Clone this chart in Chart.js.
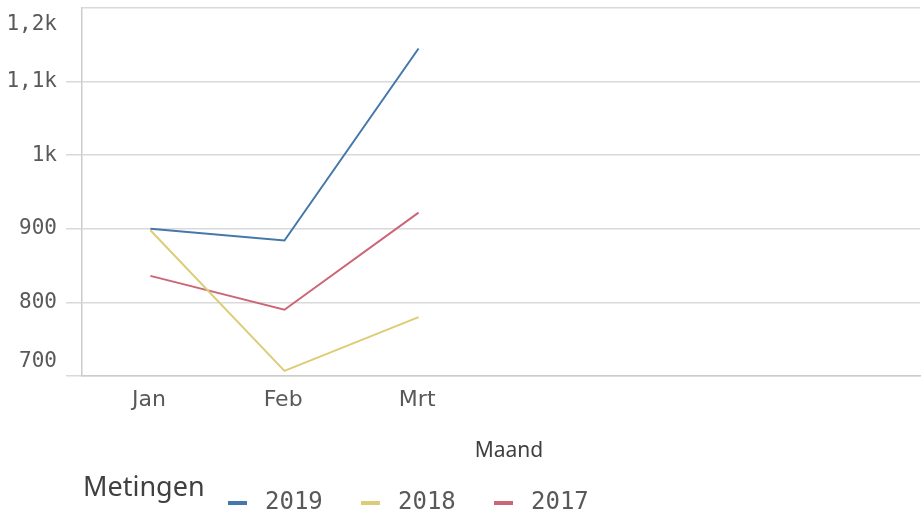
<!DOCTYPE html>
<html>
<head>
<meta charset="utf-8">
<script src="https://cdn.jsdelivr.net/npm/chart.js@4.4.1/dist/chart.umd.min.js"></script>
<style>
  html, body { margin: 0; padding: 0; background: #fff; }
  #wrap { width: 923px; height: 517px; position: relative; }
</style>
</head>
<body>
<div id="wrap"><canvas id="chart"></canvas></div>
<script>
// data
const maanden = ["Jan", "Feb", "Mrt"];
const jaren = ["2019", "2018", "2017"];
const waarden2019 = [900, 884, 1145];
const waarden2018 = [898, 707, 780];
const waarden2017 = [836, 790, 922];
const kleuren = ["#4477aa", "#ddcc77", "#cc6677"];
const yTicks = [700, 800, 900, 1000, 1100, 1200];
const yLabels = ["700", "800", "900", "1k", "1,1k", "1,2k"];

const numFont = '"DejaVu Sans Mono", monospace';
const textFont = '"Noto Sans", "DejaVu Sans", sans-serif';

const toPoints = (vals) => vals.map((v, i) => ({ x: i + 0.01, y: v }));

// y labels, x title and legend are drawn here (Qlik-like placement)
const extraText = {
  id: "extraText",
  afterDraw(chart) {
    const ctx = chart.ctx;
    const y = chart.scales.y;
    const area = chart.chartArea;
    ctx.save();
    ctx.fillStyle = "#595959";
    ctx.font = "21px " + numFont;
    ctx.textAlign = "right";
    ctx.textBaseline = "middle";
    yTicks.forEach((t, i) => {
      let py = y.getPixelForValue(t);
      if (i === yTicks.length - 1) py += 17;
      if (i === 0) py -= 14;
      ctx.fillText(yLabels[i], 57, py);
    });

    // axis title
    ctx.fillStyle = "#404040";
    ctx.font = "21px " + textFont;
    ctx.textAlign = "center";
    ctx.fillText("Maand", (area.left + area.right) / 2 + 8, 451);

    // legend
    ctx.textAlign = "left";
    ctx.font = "27px " + textFont;
    ctx.fillText("Metingen", 83, 488);
    ctx.font = "24px " + numFont;
    chart.data.datasets.forEach((ds, i) => {
      const lx = 228 + i * 133;
      ctx.fillStyle = ds.borderColor;
      ctx.fillRect(lx, 501, 19, 4);
      ctx.fillStyle = "#595959";
      ctx.fillText(ds.label, lx + 37, 503);
    });
    ctx.restore();
  },
};

new Chart(document.getElementById("chart"), {
  type: "line",
  data: {
    datasets: [
      { label: jaren[0], data: toPoints(waarden2019), borderColor: kleuren[0] },
      { label: jaren[1], data: toPoints(waarden2018), borderColor: kleuren[1] },
      { label: jaren[2], data: toPoints(waarden2017), borderColor: kleuren[2] },
    ].map((d) => ({ ...d, borderWidth: 2, pointRadius: 0, tension: 0, fill: false })),
  },
  options: {
    responsive: true,
    maintainAspectRatio: false,
    animation: false,
    layout: { padding: { top: 8, right: 3, left: 0, bottom: 51 } },
    plugins: { legend: { display: false }, tooltip: { enabled: false } },
    scales: {
      x: {
        type: "linear",
        min: -0.5,
        max: 5.75,
        afterBuildTicks: (scale) => {
          scale.ticks = maanden.map((m, i) => ({ value: i }));
        },
        afterFit: (scale) => { scale.height = 90; },
        ticks: {
          callback: (v) => maanden[v] || "",
          color: "#595959",
          font: { family: '"DejaVu Sans", sans-serif', size: 22 },
          padding: 3,
          maxRotation: 0,
        },
        grid: { display: false },
        border: { color: "#cccccc", width: 1.5 },
      },
      y: {
        min: 700,
        max: 1200,
        afterBuildTicks: (scale) => {
          scale.ticks = yTicks.map((v) => ({ value: v }));
        },
        afterFit: (scale) => { scale.width = 82; },
        ticks: { display: false },
        grid: {
          color: "#d9d9d9",
          lineWidth: 1.5,
          tickLength: 16,
          tickColor: (c) => (c.tick && c.tick.value === 1200 ? "rgba(0,0,0,0)" : "#d9d9d9"),
        },
        border: { color: "#cccccc", width: 1.5 },
      },
    },
  },
  plugins: [extraText],
});
</script>
</body>
</html>
